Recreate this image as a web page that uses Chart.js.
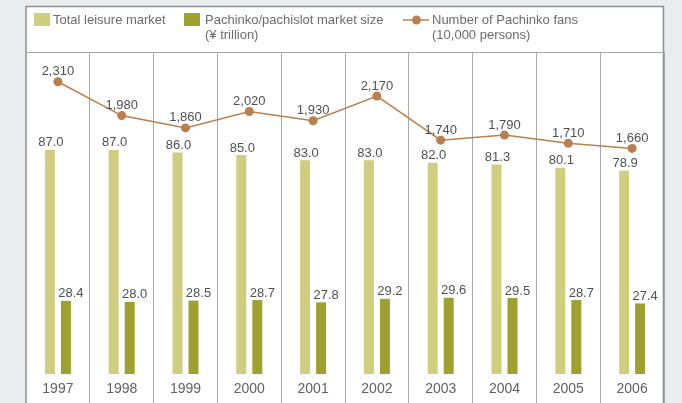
<!DOCTYPE html>
<html>
<head>
<meta charset="utf-8">
<script src="https://cdn.jsdelivr.net/npm/chart.js@4/dist/chart.umd.min.js"></script>
<style>
  html, body { margin: 0; padding: 0; background: #ebecee; }
  #wrap { width: 682px; height: 403px; position: relative; }
</style>
</head>
<body>
<div id="wrap"><canvas id="pachinkoChart" width="682" height="403"></canvas></div>
<script>
const years = ['1997', '1998', '1999', '2000', '2001', '2002', '2003', '2004', '2005', '2006'];
const leisureMarket = [87.0, 87.0, 86.0, 85.0, 83.0, 83.0, 82.0, 81.3, 80.1, 78.9];
const pachinkoMarket = [28.4, 28.0, 28.5, 28.7, 27.8, 29.2, 29.6, 29.5, 28.7, 27.4];
const pachinkoFans = [2310, 1980, 1860, 2020, 1930, 2170, 1740, 1790, 1710, 1660];

const lightOlive = '#cfcd80';
const darkOlive = '#9ca130';
const brown = '#b97f4e';
const labelFont = '13px "Liberation Sans", Arial, sans-serif';

// panel background, border and legend
const panelPlugin = {
  id: 'panel',
  beforeDraw(chart) {
    const c = chart.ctx;
    c.save();
    c.fillStyle = '#ebecee';
    c.fillRect(0, 0, 682, 403);
    c.fillStyle = '#ffffff';
    c.fillRect(26, 6, 638, 397);
    c.strokeStyle = '#8b9096';
    c.lineWidth = 1.5;
    c.beginPath();
    c.moveTo(26, 403); c.lineTo(26, 6.5); c.lineTo(663.5, 6.5); c.lineTo(663.5, 403);
    c.stroke();
    c.strokeStyle = '#a3a7ad';
    c.lineWidth = 1;
    c.beginPath();
    c.moveTo(26, 52.5); c.lineTo(664, 52.5);
    c.stroke();

    // legend
    c.font = labelFont;
    c.textBaseline = 'middle';
    c.textAlign = 'left';
    c.fillStyle = lightOlive;
    c.fillRect(34, 13, 16, 13);
    c.fillStyle = darkOlive;
    c.fillRect(184, 13, 16, 13);
    c.fillStyle = '#6a6b6e';
    c.fillText('Total leisure market', 53, 20);
    c.fillText('Pachinko/pachislot market size', 205, 20);
    c.fillText('(¥ trillion)', 205, 35);
    c.fillText('Number of Pachinko fans', 432, 20);
    c.fillText('(10,000 persons)', 432, 35);
    c.strokeStyle = brown;
    c.lineWidth = 1.5;
    c.beginPath();
    c.moveTo(403, 20); c.lineTo(429, 20);
    c.stroke();
    c.fillStyle = brown;
    c.beginPath();
    c.arc(416.5, 20, 4.5, 0, Math.PI * 2);
    c.fill();
    c.restore();
  }
};

// value labels above bars and points
const valueLabels = {
  id: 'valueLabels',
  afterDatasetsDraw(chart) {
    const c = chart.ctx;
    c.save();
    c.font = labelFont;
    c.fillStyle = '#4f5052';
    c.textAlign = 'center';
    c.textBaseline = 'middle';
    chart.data.datasets.forEach((ds, i) => {
      const meta = chart.getDatasetMeta(i);
      meta.data.forEach((el, j) => {
        const v = ds.data[j];
        if (ds.type === 'line') {
          c.fillText(v.toLocaleString('en-US'), el.x, el.y - 10);
        } else {
          const dx = i === 0 ? 1 : 5;
          c.fillText(v.toFixed(1), el.x + dx, el.y - 7);
        }
      });
    });
    c.restore();
  }
};

const ctx = document.getElementById('pachinkoChart').getContext('2d');
new Chart(ctx, {
  type: 'bar',
  data: {
    labels: years,
    datasets: [
      {
        label: 'Total leisure market',
        data: leisureMarket,
        backgroundColor: lightOlive,
        yAxisID: 'y',
        order: 2
      },
      {
        label: 'Pachinko/pachislot market size (¥ trillion)',
        data: pachinkoMarket,
        backgroundColor: darkOlive,
        yAxisID: 'y',
        order: 2
      },
      {
        type: 'line',
        label: 'Number of Pachinko fans (10,000 persons)',
        data: pachinkoFans,
        borderColor: brown,
        backgroundColor: brown,
        borderWidth: 1.5,
        pointRadius: 4.5,
        pointBorderWidth: 0,
        tension: 0,
        yAxisID: 'y2',
        order: 1
      }
    ]
  },
  options: {
    responsive: false,
    animation: false,
    layout: { padding: { top: 52, left: 26, right: 18, bottom: 0 } },
    plugins: {
      legend: { display: false },
      tooltip: { enabled: false }
    },
    datasets: {
      bar: { categoryPercentage: 0.5016, barPercentage: 0.625 }
    },
    scales: {
      x: {
        offset: true,
        afterFit: s => { s.height = 29; },
        grid: {
          offset: true,
          color: '#a6aab0',
          lineWidth: 1,
          drawTicks: true,
          tickLength: 29
        },
        border: { display: false },
        ticks: {
          padding: -22,
          color: '#606165',
          font: { family: '"Liberation Sans", Arial, sans-serif', size: 14 }
        }
      },
      y: { display: false, min: 0, max: 125 },
      y2: { display: false, min: -540, max: 2600 }
    }
  },
  plugins: [panelPlugin, valueLabels]
});
</script>
</body>
</html>
